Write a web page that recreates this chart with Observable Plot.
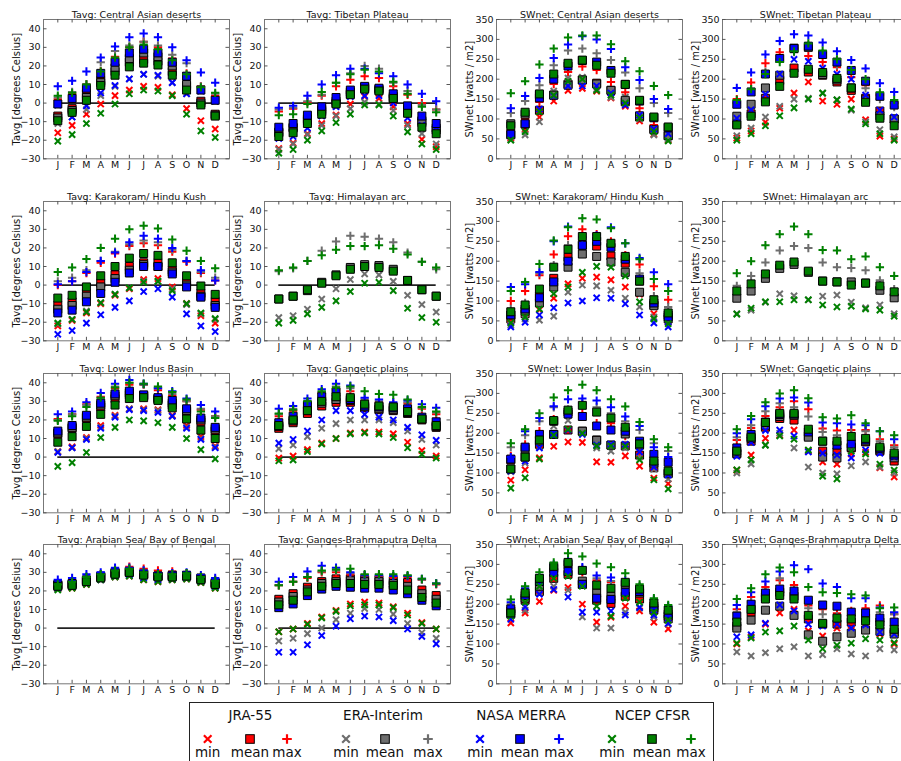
<!DOCTYPE html>
<html><head><meta charset="utf-8">
<script src="https://cdn.jsdelivr.net/npm/d3@7"></script>
<script src="https://cdn.jsdelivr.net/npm/@observablehq/plot@0.6"></script>
<style>
html,body{margin:0;padding:0;background:#fff;}
body{width:901px;height:761px;overflow:hidden;position:relative;font-family:"DejaVu Sans",sans-serif;}
#legend{position:absolute;left:189px;top:702px;width:525px;height:80px;border:1px solid #222;box-sizing:border-box;background:#fff;}
#legend svg{position:absolute;left:0;top:0;}
</style></head><body>
<div id="root"></div>
<div id="legend"></div>
<script>
// ---------- categories / labels ----------
const months = ["J","F","M","A","M","J","J","A","S","O","N","D"];
const datasetNames = ["JRA-55","ERA-Interim","NASA MERRA","NCEP CFSR"];
const datasetColors = ["#ff0000","#6e6e6e","#0000ff","#008000"];
const statLabels = ["min","mean","max"];
const tavgTicks = [-30,-20,-10,0,10,20,30,40];
const swnetTicks = [0,50,100,150,200,250,300,350];
const tavgDomain = [-30,45];
const swnetDomain = [0,350];
const tavgLabel = "Tavg [degrees Celsius]";
const swnetLabel = "SWnet [watts / m2]";

// ---------- data: each = [min[12], mean[12], max[12]] ----------
const tavgCAD_JRA = [[-16,-12,-6,-0.5,4,7,9,8.5,4.5,-3,-9.5,-14],[-7,-3,5,12,17,22,23.5,22.5,17,9,1,-6],[2,5,10,17,25,30,33,30,24,16,9,4]];
const tavgCAD_ERA = [[-11,-7.5,-3.5,4,9,13,15.5,14.5,11,5,-1,-6],[-8,-4,3,11,19,24,27,25,20,10,0,-6.5],[3,6,10,22,28,31,33,31,26,21.5,9,5]];
const tavgCAD_MERRA = [[-1,-7.5,-1.5,5.5,9.5,13,15.5,15,11,5,6.5,1],[-0.5,2.5,8,16,22,27,29,27,22,14.5,7,1.5],[9,12,17,24.5,30.5,35.5,37.5,35.5,30,23,16.5,11]];
const tavgCAD_CFSR = [[-20.5,-17,-11,-5.5,-0.5,5,7,6.5,4,-6,-15,-18.5],[-9.5,-5,1.5,9.5,15,19.5,21.5,20.5,15,7,-1,-7],[4,5.5,10,17,24.5,30,31.5,29,23,15.5,8.5,5.5]];

const tavgTP_JRA = [[-24.5,-21.5,-16.5,-11,-6.5,-0.5,3.5,2.5,-2,-11,-19.5,-23.5],[-15.5,-13,-8.5,-3.5,1,6,8.5,7.5,3.5,-3.5,-9.5,-13.5],[-4.5,-3,0.5,4,9,12.5,14.5,13.5,9,4.5,0,-3.5]];
const tavgTP_ERA = [[-25,-22,-17,-12,-7,-3,0.5,-0.5,-4,-12,-16.5,-22],[-16,-13.5,-9.5,-4.5,0,5,8,7,2.5,-4.5,-10.5,-14.5],[-3.5,-2.5,1,4.5,11,16,20,18.5,11,6.5,-1,-3.5]];
const tavgTP_MERRA = [[-19,-18,-13.5,-7,-2,3.5,4,4,0,-8,-12,-13],[-13,-11,-6.5,-2,3,7,9,8,5,-1.5,-7,-11],[-2.5,-1.5,4,10,15,18.5,18.5,16,14.5,10,5,1]];
const tavgTP_CFSR = [[-27,-25,-20,-15,-10.5,-6,-1,-1,-7,-15.5,-22,-25],[-18,-16,-11,-6,-0.5,4.5,7.5,6.5,2.5,-5.5,-13,-16.5],[-6.5,-6,-0.5,6,11,15.5,18,17,11.5,5,-2,-5]];

const swCAD_JRA = [[52,75,105,145,172,177,170,153,132,95,62,47],[60,87,122,160,188,198,190,172,143,105,75,58],[72,100,143,188,218,232,223,193,167,127,85,68]];
const swCAD_ERA = [[48,60,93,170,203,205,175,155,155,100,60,50],[88,112,160,160,185,198,188,172,147,108,73,58],[115,145,185,235,272,277,265,248,217,177,140,115]];
const swCAD_MERRA = [[60,88,125,158,183,183,183,165,135,110,75,63],[62,88,153,200,233,247,243,222,187,145,103,78],[127,158,203,253,287,308,300,276,230,198,150,125]];
const swCAD_CFSR = [[47,68,118,160,195,200,172,160,140,103,68,45],[83,117,163,213,240,248,235,215,187,147,105,80],[165,195,237,277,305,310,310,288,245,220,183,160]];

const swTP_JRA = [[52,70,92,127,165,193,145,137,150,98,57,50],[87,113,152,197,228,218,210,193,172,152,120,100],[150,192,240,268,278,258,243,230,205,185,160,140]];
const swTP_ERA = [[58,77,105,132,150,152,165,148,122,93,73,55],[107,137,178,210,278,280,212,198,178,148,108,100],[140,175,218,250,268,285,265,235,222,177,150,130]];
const swTP_MERRA = [[102,123,162,213,250,245,228,213,200,160,122,105],[137,168,213,252,277,283,262,243,222,195,157,135],[178,217,262,296,313,310,292,270,248,227,190,168]];
const swTP_CFSR = [[47,63,83,108,128,150,165,148,125,88,63,47],[85,107,143,182,215,225,217,202,178,142,102,83],[148,175,213,243,270,290,272,250,223,200,167,148]];

const tavgKHK_JRA = [[-22,-19,-15,-10,-5.5,-2,3,3.5,-1,-10,-16.5,-20.5],[-11,-9,-4.5,1,5.5,10,12,12,8,1.5,-4.5,-9],[0,2,6.5,12,17,21,22.5,21.5,18,12.5,6.5,2.5]];
const tavgKHK_ERA = [[-21,-18.5,-14,-9.5,-5,-1.5,2,2,-2,-10.5,-15.5,-18.5],[-13,-11,-6,-1,3.5,8,11,10,7,0,-6,-11],[2,4,8,13,18,22,24,23,19,13,7,4]];
const tavgKHK_MERRA = [[-26.5,-24.5,-20.5,-16,-12,-8.5,-3.5,-2,-6.5,-15.5,-22,-25],[-15,-13.5,-9,-4.5,1.5,6.5,10,10,6,-1,-6.5,-12],[0.5,2,7,13,17.5,23,26.5,25,20,13,8,2.5]];
const tavgKHK_CFSR = [[-20.5,-18.5,-14.5,-9.5,-5,-1.5,1.5,2,-3,-10,-15,-18],[-7,-5.5,-1,5,10,14.5,17,16,12,5,-0.5,-5],[7,9.5,14,20,25,30,32,30.5,24.5,18.5,13,9]];

const tavgHA_ERA = [[-17.5,-16.5,-13,-7.5,-2,3,6,5.5,2,-5.5,-10.5,-14.5],[-7.5,-6,-3,1.5,5.5,9.5,11,10.5,8.5,2.5,-2.5,-6],[7.5,9,13,18.5,23.5,26.5,26,25,23,17.5,12.5,8.5]];
const tavgHA_CFSR = [[-20.5,-19,-15.5,-12,-8.5,-3.5,1,1.5,-3,-12.5,-17.5,-20],[-7.5,-6,-2.5,1,5,8.5,10,9.5,7.5,2.5,-2.5,-6],[8,9.5,13,16,19,21,21,21.5,19.5,16.5,12.5,9.5]];

const swKHK_JRA = [[50,65,78,107,143,157,160,153,135,117,68,47],[55,68,112,157,210,240,238,213,195,150,90,65],[100,125,165,217,263,280,268,250,215,192,137,103]];
const swKHK_ERA = [[40,55,52,62,122,140,138,127,107,85,60,50],[65,75,95,135,185,218,212,198,172,122,88,55],[80,95,170,190,240,250,255,240,213,170,112,85]];
const swKHK_MERRA = [[35,47,65,83,95,100,108,107,93,65,45,35],[65,80,108,148,200,240,250,235,205,155,95,60],[135,142,173,250,287,260,265,285,245,208,172,142]];
const swKHK_CFSR = [[45,60,80,118,135,172,187,185,163,98,55,43],[73,90,130,185,230,262,262,245,212,150,103,70],[125,148,193,252,285,308,305,283,245,205,155,125]];

const swHA_ERA = [[68,77,97,118,113,103,112,115,97,83,90,68],[107,125,157,182,192,172,150,148,148,145,127,108],[138,163,197,227,238,233,197,185,183,177,152,130]];
const swHA_CFSR = [[67,82,98,98,103,103,90,85,87,80,77,62],[125,143,168,190,198,175,150,148,140,145,138,123],[170,200,240,268,287,268,228,227,205,212,185,163]];

const tavgLIB_JRA = [[3,5.5,10.5,17,22.5,26,26,25.5,22.5,17,11,6],[12.5,15.5,21,27,31.5,33.5,33,31,28,24.5,19,14],[20.5,23,28.5,32.5,37,39,39,36,33,30,25.5,22]];
const tavgLIB_ERA = [[3,5,10,16,22,26,25.5,25,22,16,10,5.5],[13,16,21.5,28,33,34.5,33,31.5,29,25,20,15],[20,23,28,32,38,40,39,37,34,30,26,22]];
const tavgLIB_MERRA = [[2.5,5,9.5,15.5,21.5,25.5,25,24,22,15.5,9.5,5],[14,17,22.5,29,34,35.5,33.5,32,30.5,26,21,16],[23,24.5,29.5,34.5,39.5,41.5,39.5,37,35.5,31.5,28,24.5]];
const tavgLIB_CFSR = [[-5,-3,2.5,10.5,16,20,19.5,18.5,16,10,4,-1],[8,11,16.5,23,28,31.5,32,30.5,26.5,20.5,14.5,10],[19.5,22,27,32,37.5,40,39.5,38,35,31,24.5,21]];

const tavgGP_JRA = [[-0.5,0.5,4,7.5,10,13,13.5,13.5,12.5,8,3.5,0.5],[15.5,18.5,23.5,27.5,29.5,29.5,26.5,25.5,25,23.5,20,16],[22,25,29,34.5,36.5,35.5,30,29.5,28.5,29,26,23]];
const tavgGP_ERA = [[4.5,6.5,11,15.5,18,20,20,20,18.5,14,9.5,6.5],[16.5,19.5,25,29,31,30.5,27,26,25.5,24,20.5,16.5],[23,26,30,35,38,37,31,30,29,29.5,26.5,24]];
const tavgGP_MERRA = [[7.5,9.5,14,20,25,25,23,21.5,20,16,12,9],[18.5,22,28,32.5,35,31,27.5,27,26.5,26,21.5,19],[26,27.5,31.5,36.5,39.5,38.5,32,31,29.5,30.5,28.5,26.5]];
const tavgGP_CFSR = [[-2,-1.5,3,7,10,12.5,13,12.5,10.5,5,1.5,-0.5],[17,20,25,30,32.5,32,28.5,27.5,27,24.5,20.5,17],[23.5,25.5,30,35.5,37.5,38,35.5,34,33.5,31,27,24.5]];

const swLIB_JRA = [[82,108,138,167,178,177,128,127,143,117,87,73],[133,140,172,197,208,205,183,170,168,145,113,100],[143,172,205,235,250,250,225,225,193,170,140,130]];
const swLIB_ERA = [[103,125,165,218,232,200,163,155,163,140,110,85],[110,160,180,230,253,205,182,170,198,170,125,98],[165,195,230,265,260,275,265,250,230,208,175,155]];
const swLIB_MERRA = [[105,130,163,197,208,197,170,172,172,153,115,95],[135,165,197,197,248,242,218,208,205,180,147,127],[140,205,238,268,285,287,282,265,242,218,165,140]];
const swLIB_CFSR = [[62,88,135,195,210,200,168,168,167,133,83,60],[110,140,183,232,258,270,253,238,215,173,130,105],[175,210,250,290,308,322,308,285,267,228,185,165]];

const swGP_JRA = [[107,145,187,195,208,155,128,122,148,152,113,90],[148,180,215,237,233,193,155,153,163,178,155,130],[183,213,243,265,280,260,212,207,208,208,185,170]];
const swGP_ERA = [[100,123,170,200,163,115,100,98,118,128,115,100],[150,187,220,242,245,190,140,138,165,180,158,138],[190,220,255,275,265,242,203,195,200,205,180,165]];
const swGP_MERRA = [[142,177,207,208,193,153,150,145,138,158,150,140],[163,197,228,247,248,203,180,170,173,183,162,145],[200,235,268,287,290,277,227,225,222,220,205,185]];
const swGP_CFSR = [[108,133,170,193,185,158,92,85,155,148,122,107],[155,190,227,250,250,210,180,180,192,187,165,150],[210,243,278,300,308,288,240,237,245,225,205,195]];

const tavgAS_JRA = [[21,21.5,23.5,26,27.5,28,26,25,26,26.5,24.5,21.5],[23,23.5,25.5,27.5,29.5,30.5,29,28,28,28,26.5,24],[24,25,27,29,31.5,33,32,31,30.5,29.5,27.5,26]];
const tavgAS_ERA = [[21,22,24,26,27.5,28,26.5,25.5,26,26.5,25,22],[23,23.5,25.5,27.5,29.5,30,29,28,28,28,26.5,24],[24,25,27.5,29,31,32,31,29.5,29.5,29.5,27.5,25.5]];
const tavgAS_MERRA = [[21.5,22,24,26,28,28.5,27,26,26.5,27,25,22],[23.5,24,26,28,30,30.5,29,28,28.5,28.5,27,24.5],[26,27,29,30,32.5,32.5,31,29.5,29.5,30,28.5,27]];
const tavgAS_CFSR = [[20.5,21.5,23.5,26,27.5,28,26,25,26,26.5,24.5,21.5],[22.5,23,25,27,29,30,28.5,27.5,27.5,28,26,23.5],[23.5,25,27.5,29,31,32,30,29,29,29.5,27.5,25.5]];

const tavgGBD_JRA = [[-2,-0.5,2.5,6,9.5,13,14,13.5,11.5,8,3,-0.5],[15.5,18.5,22,25,26.5,26.5,26,26,25.5,24.5,20.5,17.5],[23,25,27,30,30,29,28.5,28,27.5,27.5,26,23.5]];
const tavgGBD_ERA = [[-7,-5.5,-3,0,4.5,8,10.5,10,7.5,2.5,-2.5,-5.5],[14,17,20.5,24,25,25.5,25,25,24,22.5,18.5,15.5],[23,25,27.5,30.5,31,29.5,28.5,28.5,28,28,26,24]];
const tavgGBD_MERRA = [[-13,-13,-9,-4,1,5,6.5,6,4,-0.5,-4.5,-8.5],[11,13,17.5,21,22.5,22,21.5,21.5,20.5,18.5,15,12],[25,27.5,30.5,33.5,32.5,30,28.5,28.5,28,28,26.5,24]];
const tavgGBD_CFSR = [[-2,-0.5,2,5.5,9,12,12.5,12.5,11,7,2.5,-0.5],[12.5,15,19.5,22.5,24,24,23.5,23.5,23,20.5,16.5,13.5],[23,25,27.5,31,31.5,32,29,29,29,28.5,26.5,24]];

const swAS_JRA = [[153,178,207,235,242,200,155,167,195,183,155,138],[183,210,232,265,275,250,210,202,220,213,185,163],[195,225,260,290,300,280,260,255,243,235,205,187]];
const swAS_ERA = [[175,185,230,245,235,168,140,140,180,190,168,150],[175,215,245,290,300,258,228,220,250,228,190,170],[200,235,265,295,310,290,265,258,255,245,210,190]];
const swAS_MERRA = [[162,193,225,237,218,180,180,183,173,192,173,152],[188,222,257,280,282,250,215,212,230,232,195,175],[205,240,272,300,310,293,272,267,260,243,212,195]];
const swAS_CFSR = [[170,205,245,265,270,245,195,170,215,205,180,160],[178,228,265,295,305,285,248,240,255,238,203,185],[212,245,280,305,328,320,302,293,278,250,215,198]];

const swGBD_JRA = [[100,118,150,178,187,133,120,140,135,143,125,100],[145,180,218,230,220,163,150,150,155,165,155,130],[187,218,243,260,248,197,187,177,183,190,197,175]];
const swGBD_ERA = [[80,70,78,88,93,70,73,88,75,70,88,85],[140,160,185,195,172,123,107,118,127,135,132,125],[180,205,230,265,235,190,175,170,175,180,180,175]];
const swGBD_MERRA = [[118,123,152,198,183,150,145,150,140,148,130,125],[170,200,228,238,233,210,198,195,180,178,165,155],[198,230,257,282,298,288,252,243,215,215,192,180]];
const swGBD_CFSR = [[102,115,130,133,145,110,88,97,102,113,110,103],[155,187,213,222,213,172,152,165,163,158,148,137],[213,240,275,292,280,243,230,228,225,222,190,192]];

// ---------- panel list (row-major) ----------
const panels = [
  {title:"Tavg: Central Asian deserts", kind:"T", series:[tavgCAD_JRA,tavgCAD_ERA,tavgCAD_MERRA,tavgCAD_CFSR]},
  {title:"Tavg: Tibetan Plateau", kind:"T", series:[tavgTP_JRA,tavgTP_ERA,tavgTP_MERRA,tavgTP_CFSR]},
  {title:"SWnet: Central Asian deserts", kind:"S", series:[swCAD_JRA,swCAD_ERA,swCAD_MERRA,swCAD_CFSR]},
  {title:"SWnet: Tibetan Plateau", kind:"S", series:[swTP_JRA,swTP_ERA,swTP_MERRA,swTP_CFSR]},
  {title:"Tavg: Karakoram/ Hindu Kush", kind:"T", series:[tavgKHK_JRA,tavgKHK_ERA,tavgKHK_MERRA,tavgKHK_CFSR]},
  {title:"Tavg: Himalayan arc", kind:"T", series:[null,tavgHA_ERA,null,tavgHA_CFSR]},
  {title:"SWnet: Karakoram/ Hindu Kush", kind:"S", series:[swKHK_JRA,swKHK_ERA,swKHK_MERRA,swKHK_CFSR]},
  {title:"SWnet: Himalayan arc", kind:"S", series:[null,swHA_ERA,null,swHA_CFSR]},
  {title:"Tavg: Lower Indus Basin", kind:"T", series:[tavgLIB_JRA,tavgLIB_ERA,tavgLIB_MERRA,tavgLIB_CFSR]},
  {title:"Tavg: Gangetic plains", kind:"T", series:[tavgGP_JRA,tavgGP_ERA,tavgGP_MERRA,tavgGP_CFSR]},
  {title:"SWnet: Lower Indus Basin", kind:"S", series:[swLIB_JRA,swLIB_ERA,swLIB_MERRA,swLIB_CFSR]},
  {title:"SWnet: Gangetic plains", kind:"S", series:[swGP_JRA,swGP_ERA,swGP_MERRA,swGP_CFSR]},
  {title:"Tavg: Arabian Sea/ Bay of Bengal", kind:"T", series:[tavgAS_JRA,tavgAS_ERA,tavgAS_MERRA,tavgAS_CFSR]},
  {title:"Tavg: Ganges-Brahmaputra Delta", kind:"T", series:[tavgGBD_JRA,tavgGBD_ERA,tavgGBD_MERRA,tavgGBD_CFSR]},
  {title:"SWnet: Arabian Sea/ Bay of Bengal", kind:"S", series:[swAS_JRA,swAS_ERA,swAS_MERRA,swAS_CFSR]},
  {title:"SWnet: Ganges-Brahmaputra Delta", kind:"S", series:[swGBD_JRA,swGBD_ERA,swGBD_MERRA,swGBD_CFSR]}
];

// ---------- layout ----------
const colLefts = [42.7, 263.5, 496, 722.2];
const rowTops = [19, 200.7, 373, 544];
const W = 186, H = 139.3, ML = 43, MR = 3, MT = 16, MB = 14;
const monthPos = months.map((_, i) => i + 1);
const root = document.getElementById("root");

panels.forEach((p, i) => {
  const row = Math.floor(i / 4), col = i % 4;
  const isT = p.kind === "T";
  const yTicks = isT ? tavgTicks : swnetTicks;
  const marks = [];
  marks.push(Plot.frame({stroke: "#777", strokeWidth: 1}));
  marks.push(Plot.tickX(monthPos, {x: d => d, insetTop: H - 3.5, stroke: "#555"}));
  marks.push(Plot.tickX(monthPos, {x: d => d, insetBottom: H - 3.5, stroke: "#555"}));
  marks.push(Plot.tickY(yTicks, {y: d => d, insetRight: W - 3.5, stroke: "#555"}));
  marks.push(Plot.tickY(yTicks, {y: d => d, insetLeft: W - 3.5, stroke: "#555"}));
  if (isT) marks.push(Plot.ruleY([0], {x1: monthPos[0], x2: monthPos[11], stroke: "#222", strokeWidth: 1.6}));
  p.series.forEach((s, di) => {
    if (!s) return;
    const recs = monthPos.map((m, k) => ({month: m, min: s[0][k], mean: s[1][k], max: s[2][k]}));
    const c = datasetColors[di];
    marks.push(Plot.dot(recs, {x: "month", y: "min", symbol: "times", fill: "none", stroke: c, strokeWidth: 2, r: 2.9}));
    marks.push(Plot.dot(recs, {x: "month", y: "mean", symbol: "square", fill: c, stroke: "#000", strokeWidth: 1, r: 4.5}));
    marks.push(Plot.dot(recs, {x: "month", y: "max", symbol: "plus", fill: "none", stroke: c, strokeWidth: 2, r: 2.8}));
  });
  marks.push(Plot.axisX(monthPos, {tickSize: 0, tickPadding: 2, tickFormat: d => months[d - 1], label: null, fontSize: 9.5}));
  marks.push(Plot.axisY(yTicks, {tickSize: 0, tickPadding: 3, label: null, fontSize: 9.5}));
  marks.push(Plot.text([p.title], {text: d => d, frameAnchor: "top", textAnchor: "middle", dy: -1.5, lineAnchor: "bottom", fontSize: 9.5}));
  marks.push(Plot.text([isT ? tavgLabel : swnetLabel], {text: d => d, frameAnchor: "left", textAnchor: "middle", lineAnchor: "middle", rotate: -90, dx: -27, fontSize: 10}));
  const svg = Plot.plot({
    width: ML + W + MR, height: MT + H + MB,
    marginLeft: ML, marginRight: MR, marginTop: MT, marginBottom: MB,
    x: {domain: [0, 13]},
    y: {domain: isT ? tavgDomain : swnetDomain},
    style: {fontFamily: "'DejaVu Sans', sans-serif", fontSize: "9.5px", color: "#111", background: "transparent", overflow: "visible"},
    marks
  });
  svg.style.position = "absolute";
  svg.style.left = (colLefts[col] - ML) + "px";
  svg.style.top = (rowTops[row] - MT) + "px";
  root.appendChild(svg);
});

// ---------- legend (svg coords = page coords - (190, 703)) ----------
const legendTitleX = [250.5, 383, 521, 652.5];
const legendMarkerX = [[207.7, 250, 287], [346, 385, 428], [480, 520, 559], [612, 652, 691]];
const ns = "http://www.w3.org/2000/svg";
const lg = document.createElementNS(ns, "svg");
lg.setAttribute("width", 525); lg.setAttribute("height", 80);
lg.style.fontFamily = "'DejaVu Sans', sans-serif";
const ox = 190, oy = 703;
let html = "";
datasetNames.forEach((name, di) => {
  const col = datasetColors[di];
  html += `<text x="${legendTitleX[di] - ox}" y="${715 - oy}" text-anchor="middle" dy="0.35em" font-size="13.5" fill="#111">${name}</text>`;
  const xs = legendMarkerX[di].map(v => v - ox);
  const my = 739 - oy;
  html += `<path transform="translate(${xs[0]},${my})" d="M-3.8,-3.8L3.8,3.8M-3.8,3.8L3.8,-3.8" stroke="${col}" stroke-width="2.2" fill="none"/>`;
  html += `<rect x="${xs[1] - 4.3}" y="${my - 4.3}" width="8.6" height="8.6" fill="${col}" stroke="#000" stroke-width="1"/>`;
  html += `<path transform="translate(${xs[2]},${my})" d="M-4.8,0H4.8M0,-4.8V4.8" stroke="${col}" stroke-width="2.2" fill="none"/>`;
  statLabels.forEach((s, k) => {
    html += `<text x="${xs[k]}" y="${752.5 - oy}" text-anchor="middle" dy="0.35em" font-size="13.5" fill="#111">${s}</text>`;
  });
});
lg.innerHTML = html;
document.getElementById("legend").appendChild(lg);
</script>
</body></html>
